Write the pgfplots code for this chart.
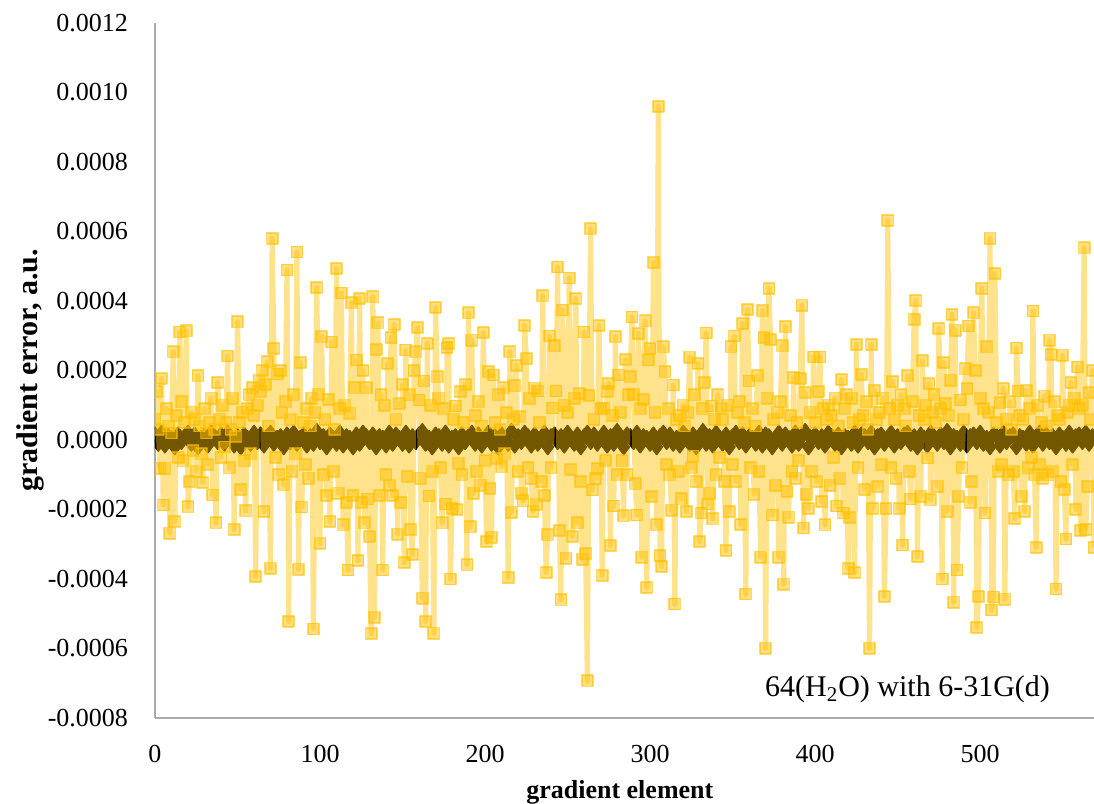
\documentclass[border=0pt]{standalone}
\usepackage{pgfplots}
\pgfplotsset{compat=1.18}
\usepackage{pgfplotstable}
\usepackage{fontspec}
\setmainfont{Liberation Serif}
\definecolor{gold}{RGB}{255,192,0}
\definecolor{spine}{RGB}{170,170,170}
% gradient error of the 6-31G(d) series, in units of 1e-4 a.u., element 0,1,2,...
\pgfplotstableread[row sep=\\]{v\\%
0.6\\1.39\\0.3\\-0.81\\1.77\\-1.87\\-0.81\\0.9\\0.4\\-2.68\\%
0.2\\2.54\\-2.35\\0.7\\-0.5\\3.11\\1.1\\-0.6\\0.5\\3.14\\%
-1.92\\-1.2\\0.8\\-0.3\\0.6\\-0.9\\1.85\\0.4\\-0.4\\-1.22\\%
0.9\\0.2\\-0.7\\0.5\\1.2\\-1.58\\0.3\\-2.38\\1.65\\0.6\\%
-0.5\\1.0\\-0.2\\0.5\\2.42\\-0.8\\0.3\\1.2\\-2.57\\0.1\\%
3.40\\0.5\\-1.43\\0.8\\-0.6\\-2.04\\0.9\\1.3\\-0.4\\1.5\\%
0.7\\-3.93\\1.0\\1.72\\1.4\\2.0\\-2.06\\1.6\\2.25\\0.4\\%
-3.69\\5.80\\2.63\\-0.5\\1.9\\-1.0\\2.0\\0.8\\-1.29\\1.1\\%
4.89\\-5.22\\0.6\\-0.9\\1.3\\-0.4\\5.41\\-3.72\\2.23\\-1.93\\%
0.5\\-0.7\\0.9\\-1.1\\0.4\\1.2\\-5.44\\0.8\\4.39\\1.32\\%
-2.97\\2.97\\-1.0\\0.6\\-1.6\\1.17\\-2.35\\2.82\\-0.9\\0.3\\%
4.93\\-1.53\\0.9\\4.23\\-2.44\\1.0\\-1.8\\-3.74\\0.77\\3.95\\%
-1.6\\1.5\\2.30\\-3.47\\4.07\\-1.8\\2.0\\-2.38\\1.5\\-1.7\\%
-2.78\\-5.57\\4.12\\-5.10\\2.6\\3.37\\-1.60\\1.3\\-3.74\\1.0\\%
-1.0\\2.2\\-1.3\\2.95\\-1.6\\3.32\\0.6\\-2.71\\1.05\\-1.80\\%
1.6\\-3.53\\2.59\\-1.05\\1.3\\-2.57\\-3.30\\2.0\\2.54\\3.24\\%
1.15\\-1.1\\-4.55\\1.7\\-5.22\\2.78\\-1.61\\1.0\\-0.9\\-5.56\\%
3.81\\1.82\\1.2\\-0.8\\-2.38\\0.9\\-1.84\\2.66\\2.78\\-4.0\\%
-1.97\\0.6\\0.98\\-2.0\\-0.67\\1.4\\-1.0\\0.5\\1.6\\-3.59\\%
3.66\\-2.5\\2.87\\-1.53\\0.7\\-0.9\\1.1\\-1.3\\0.4\\3.09\\%
-0.6\\-2.92\\1.96\\-1.4\\-2.8\\1.87\\0.5\\-0.53\\1.3\\0.3\\%
-0.77\\1.5\\-0.4\\0.79\\-3.96\\2.54\\-2.08\\0.6\\1.56\\2.14\\%
-0.9\\0.67\\-1.53\\-1.75\\3.29\\2.35\\-0.8\\1.2\\-1.1\\-2.05\\%
1.49\\-1.85\\1.41\\0.5\\-1.2\\4.15\\-1.6\\-3.81\\-2.73\\2.99\\%
-0.8\\0.92\\2.71\\1.41\\4.98\\-2.6\\-4.6\\3.74\\1.0\\-3.4\\%
0.8\\4.66\\-0.85\\-2.78\\1.2\\4.07\\-2.38\\1.34\\-1.2\\-3.43\\%
3.11\\-3.27\\-6.93\\1.28\\6.08\\-1.44\\0.6\\-1.1\\-0.82\\3.29\\%
0.9\\-3.90\\0.9\\-0.6\\1.4\\1.63\\-3.04\\0.7\\-1.9\\2.97\\%
-1.0\\1.87\\0.8\\-0.6\\-2.18\\2.32\\-1.0\\1.3\\1.82\\3.54\\%
1.32\\-1.26\\-2.16\\3.07\\0.9\\-3.37\\1.17\\3.43\\-4.24\\2.3\\%
2.63\\-1.63\\5.11\\0.8\\-2.44\\9.6\\-3.32\\-3.64\\2.68\\1.96\\%
-0.7\\0.9\\-1.0\\-2.02\\1.58\\-4.72\\0.6\\-0.9\\0.7\\-1.69\\%
1.0\\0.4\\-2.06\\0.8\\2.38\\-0.8\\-0.46\\1.3\\-1.2\\2.2\\%
-2.92\\-2.1\\0.9\\1.65\\3.08\\-1.84\\-1.53\\0.98\\-2.27\\0.6\\%
-1.0\\1.3\\-0.5\\0.9\\0.6\\-1.2\\-3.18\\1.0\\-2.06\\2.68\\%
-0.7\\2.99\\-1.2\\0.8\\1.1\\-2.43\\3.35\\0.5\\-4.43\\3.75\\%
1.7\\-0.8\\0.9\\-1.56\\0.4\\1.85\\-0.9\\-3.37\\3.72\\2.95\\%
-5.99\\1.2\\4.36\\2.89\\-2.16\\0.6\\-1.3\\0.80\\-3.37\\1.1\\%
2.71\\-4.15\\3.26\\-1.48\\-2.22\\0.7\\-0.9\\1.8\\-1.1\\0.5\\%
-0.6\\1.77\\3.88\\-2.53\\1.37\\-1.56\\-1.97\\0.8\\-0.9\\2.39\\%
0.5\\-1.2\\1.4\\2.39\\-1.77\\0.9\\-2.44\\0.6\\1.0\\-1.3\\%
0.7\\-0.5\\1.2\\-1.9\\0.4\\-1.1\\1.74\\-2.1\\0.9\\1.3\\%
-3.7\\-2.23\\1.2\\0.5\\-3.81\\2.75\\-0.8\\0.6\\1.89\\0.7\\%
-1.43\\1.1\\0.3\\-5.99\\2.75\\-1.97\\1.43\\0.6\\-1.34\\0.79\\%
-0.71\\1.2\\-4.5\\-1.97\\6.32\\0.9\\-0.8\\1.68\\0.6\\-1.1\\%
1.0\\-1.97\\1.3\\-3.02\\0.9\\0.4\\1.85\\-0.9\\-1.7\\1.11\\%
3.47\\4.02\\-3.35\\0.7\\-1.62\\2.28\\0.6\\1.0\\-0.52\\1.63\\%
-1.72\\0.8\\1.3\\0.5\\-1.33\\3.21\\0.9\\-4.0\\2.23\\1.05\\%
-2.05\\0.7\\1.72\\3.61\\-4.67\\3.16\\-3.74\\-1.62\\1.15\\-0.8\\%
0.6\\2.05\\1.48\\3.28\\-1.79\\-1.2\\3.66\\2.0\\-5.39\\-4.5\\%
1.2\\4.36\\0.9\\-2.1\\2.68\\0.8\\5.81\\-4.89\\-4.52\\4.79\\%
0.5\\-0.9\\1.07\\-0.7\\1.48\\-4.58\\0.6\\-1.0\\1.1\\0.3\\%
-0.9\\-2.26\\2.65\\1.41\\0.7\\-1.62\\0.6\\-2.05\\1.43\\-0.8\\%
0.9\\-0.5\\3.71\\-1.0\\-3.09\\1.0\\-0.7\\0.5\\-1.1\\1.26\\%
0.4\\-1.0\\2.87\\2.46\\-0.9\\1.1\\-4.29\\0.7\\0.6\\-1.2\\%
2.44\\-1.42\\-2.85\\0.8\\1.0\\1.66\\-0.7\\1.2\\-2.0\\2.1\\%
0.9\\-2.6\\1.0\\5.53\\-2.57\\-1.34\\1.37\\0.6\\2.0\\-3.09\\%
}\yel
% dark series, in units of 1e-4 a.u., every second element 0,2,4,...
\pgfplotstableread[row sep=\\]{v\\%
0.15\\-0.1\\0.2\\-0.15\\0.1\\0.05\\-0.2\\0.15\\-0.05\\0.1\\0.2\\-0.1\\0.15\\-0.2\\0.05\\0.1\\-0.15\\0.2\\0.1\\%
-0.05\\0.15\\-0.1\\0.2\\0.05\\-0.15\\0.1\\-0.2\\0.15\\0.05\\-0.1\\0.2\\-0.05\\0.15\\-0.15\\0.1\\0.2\\-0.1\\0.05\\%
0.1\\-0.2\\0.15\\-0.05\\0.2\\-0.1\\0.05\\0.15\\-0.15\\0.1\\-0.1\\0.25\\-0.05\\0.1\\-0.2\\0.15\\0.05\\-0.1\\0.2\\%
-0.15\\0.1\\0.05\\-0.2\\0.15\\-0.1\\0.2\\0.1\\-0.05\\0.15\\-0.2\\0.1\\0.05\\-0.15\\0.2\\-0.1\\0.15\\0.05\\-0.1\\%
0.2\\-0.15\\0.1\\-0.05\\0.15\\0.25\\-0.1\\0.05\\-0.2\\0.15\\0.1\\-0.1\\0.2\\-0.15\\0.05\\0.1\\-0.2\\0.15\\-0.05\\%
0.1\\0.2\\-0.1\\0.15\\-0.15\\0.05\\0.2\\-0.1\\0.1\\-0.2\\0.15\\0.05\\-0.1\\0.25\\-0.15\\0.1\\-0.05\\0.2\\0.1\\%
-0.15\\0.15\\-0.1\\0.05\\0.2\\-0.2\\0.1\\0.15\\-0.05\\0.1\\-0.15\\0.2\\0.05\\-0.1\\0.15\\-0.2\\0.1\\0.2\\-0.05\\%
0.15\\-0.1\\0.05\\0.2\\-0.15\\0.1\\-0.1\\0.25\\0.05\\-0.2\\0.15\\0.1\\-0.05\\0.2\\-0.15\\0.1\\0.05\\-0.1\\0.15\\%
-0.2\\0.1\\0.2\\-0.05\\0.15\\-0.1\\0.05\\-0.15\\0.2\\0.1\\-0.1\\0.15\\-0.2\\0.05\\0.25\\-0.1\\0.1\\-0.15\\0.2\\%
0.05\\-0.1\\0.15\\-0.2\\0.1\\0.2\\-0.05\\0.15\\-0.15\\0.1\\0.05\\-0.1\\0.2\\-0.15\\0.15\\0.1\\-0.2\\0.05\\0.2\\%
-0.1\\0.15\\0.05\\-0.15\\0.2\\-0.1\\0.1\\0.25\\-0.2\\0.05\\0.15\\-0.05\\0.1\\-0.15\\0.2\\0.1\\-0.1\\0.15\\-0.2\\%
0.1\\0.05\\-0.1\\0.2\\-0.15\\0.15\\0.1\\-0.05\\0.2\\-0.2\\0.1\\0.15\\-0.1\\0.05\\0.2\\-0.15\\0.1\\-0.05\\0.15\\%
0.2\\-0.1\\0.1\\-0.2\\0.15\\0.05\\-0.15\\0.2\\0.1\\-0.1\\0.15\\-0.05\\0.25\\-0.2\\0.1\\0.05\\-0.1\\0.2\\-0.15\\%
0.1\\0.15\\-0.05\\0.2\\-0.1\\0.05\\-0.2\\0.15\\0.1\\-0.15\\0.2\\-0.05\\0.1\\0.15\\-0.2\\0.1\\0.05\\-0.1\\0.2\\%
-0.15\\0.1\\0.2\\-0.1\\0.15\\-0.05\\0.1\\-0.2\\0.15\\0.05\\-0.1\\0.2\\-0.15\\0.1\\0.15\\-0.05\\0.2\\-0.1\\0.1\\%
0.15\\-0.1\\0.2\\%
}\blk
\begin{document}
\begin{tikzpicture}
\useasboundingbox (0,0) rectangle (547pt,402pt);
\begin{axis}[
  at={(77.5pt,43pt)}, anchor=south west,
  scale only axis, width=469.5pt, height=347.5pt,
  xmin=0, xmax=569, ymin=-0.0008, ymax=0.0012,
  clip marker paths=true,
  axis lines*=left,
  axis line style={draw=spine, line width=1pt, -},
  major tick length=0pt,
  xtick={0,100,200,300,400,500},
  xticklabels={0,100,200,300,400,500},
  ytick={-0.0008,-0.0006,-0.0004,-0.0002,0,0.0002,0.0004,0.0006,0.0008,0.0010,0.0012},
  yticklabels={-0.0008,-0.0006,-0.0004,-0.0002,0.0000,0.0002,0.0004,0.0006,0.0008,0.0010,0.0012},
  scaled y ticks=false, scaled x ticks=false,
  tick label style={font=\fontsize{13}{15}\selectfont},
  xticklabel style={yshift=-10pt},
  yticklabel style={xshift=-10pt},
  xlabel={gradient element},
  ylabel={gradient error, a.u.},
  xlabel style={font=\bfseries\fontsize{13}{15}\selectfont, at={(axis description cs:0.495,-0.1065)}, anchor=center},
  ylabel style={font=\bfseries\fontsize{15}{17}\selectfont, at={(axis description cs:-0.1331,0.5)}, anchor=center},
]
\addplot[black, line width=0.9pt, line join=round, mark=diamond*, mark size=3.7pt,
  mark options={solid, fill=black}]
  table[x index=0, y index=0, x expr=2*\coordindex, y expr=\thisrow{v}*1e-4] {\blk};
\addplot[gold, draw opacity=0.45, line width=2.6pt, line join=round,
  mark=square*, mark size=2.8pt,
  mark options={solid, fill=gold, fill opacity=0.5, draw=gold, draw opacity=0.6, line width=0.8pt}]
  table[x index=0, y index=0, x expr=\coordindex, y expr=\thisrow{v}*1e-4] {\yel};
\node[font=\fontsize{15}{17}\selectfont] at (axis cs:456,-0.000718) {64(H\textsubscript{2}O) with 6-31G(d)};
\end{axis}
\end{tikzpicture}
\end{document}
